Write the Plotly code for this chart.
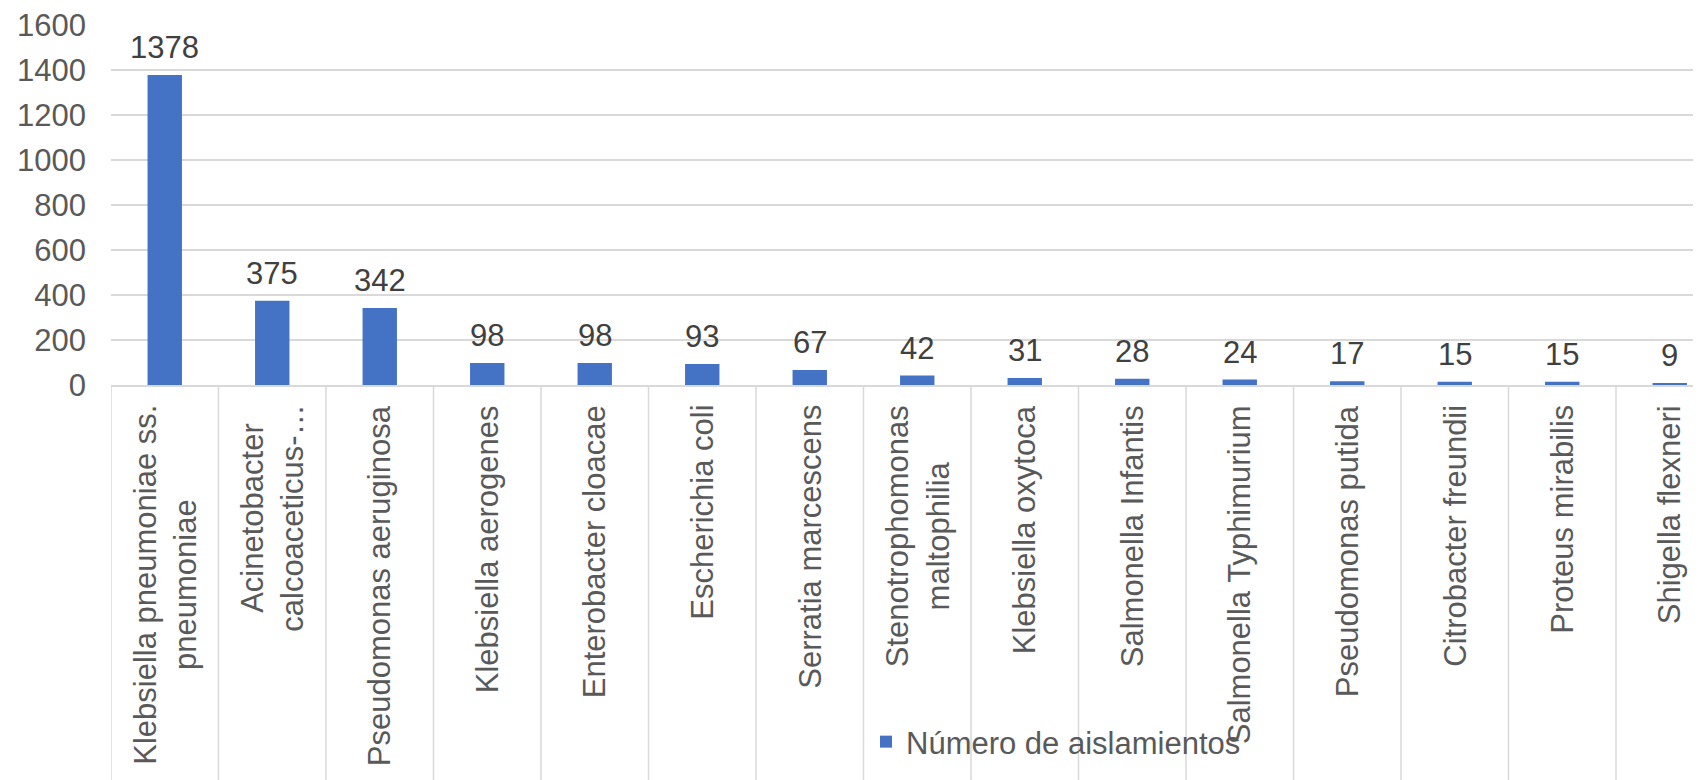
import plotly.graph_objects as go

categories = [
    "Klebsiella pneumoniae ss. pneumoniae",
    "Acinetobacter calcoaceticus-baumannii",
    "Pseudomonas aeruginosa",
    "Klebsiella aerogenes",
    "Enterobacter cloacae",
    "Escherichia coli",
    "Serratia marcescens",
    "Stenotrophomonas maltophilia",
    "Klebsiella oxytoca",
    "Salmonella Infantis",
    "Salmonella Typhimurium",
    "Pseudomonas putida",
    "Citrobacter freundii",
    "Proteus mirabilis",
    "Shigella flexneri",
]
tick_labels = [
    "Klebsiella pneumoniae ss.<br>pneumoniae",
    "Acinetobacter<br>calcoaceticus-…",
    "Pseudomonas aeruginosa",
    "Klebsiella aerogenes",
    "Enterobacter cloacae",
    "Escherichia coli",
    "Serratia marcescens",
    "Stenotrophomonas<br>maltophilia",
    "Klebsiella oxytoca",
    "Salmonella Infantis",
    "Salmonella Typhimurium",
    "Pseudomonas putida",
    "Citrobacter freundii",
    "Proteus mirabilis",
    "Shigella flexneri",
]
values = [1378, 375, 342, 98, 98, 93, 67, 42, 31, 28, 24, 17, 15, 15, 9]
y_ticks = [0, 200, 400, 600, 800, 1000, 1200, 1400, 1600]
series_name = "Número de aislamientos"

# the page body has an 8px default margin; size the figure so it ends at the window edge
OFF = 8
W, H = 1701 - OFF, 780 - OFF
ML, MR, MT = 111 - OFF, 0, 25 - OFF
plot_h = 360
MB = H - MT - plot_h
plot_w = W - ML - MR
cat_px = 107.5
FONT = "Liberation Sans, Arial, sans-serif"
FS = 31

fig = go.Figure()
fig.add_trace(go.Bar(
    x=categories, y=values, name=series_name,
    marker=dict(color="#4472C4", line=dict(width=0)),
    showlegend=True,
))

# data labels
for c, v in zip(categories, values):
    fig.add_annotation(x=c, y=v, xref="x", yref="y", text=str(v),
                       showarrow=False, yanchor="bottom", yshift=8,
                       font=dict(family=FONT, size=FS, color="#404040"))

# category labels
for c, lab in zip(categories, tick_labels):
    fig.add_annotation(x=c, y=-18 / plot_h, xref="x", yref="paper", text=lab,
                       showarrow=False, textangle=-90, align="center",
                       xanchor="center", yanchor="top",
                       font=dict(family=FONT, size=FS, color="#595959"))

# category divider lines below axis
for i in range(len(categories) + 1):
    fig.add_shape(type="line", xref="x", yref="paper",
                  x0=i - 0.5, x1=i - 0.5, y0=0, y1=-(MB + 5) / plot_h,
                  line=dict(color="#d9d9d9", width=1.5), layer="below")

fig.update_layout(
    width=W, height=H,
    margin=dict(l=ML, r=MR, t=MT, b=MB, autoexpand=False),
    paper_bgcolor="white", plot_bgcolor="white",
    bargap=0.68,
    font=dict(family=FONT, size=FS, color="#595959"),
    showlegend=True,
    legend=dict(orientation="h", x=(866 - 111) / plot_w, xanchor="left",
                y=-(742 - 25 - plot_h) / plot_h, yanchor="middle",
                font=dict(family=FONT, size=FS, color="#595959"),
                bgcolor="rgba(0,0,0,0)"),
)
fig.update_xaxes(
    type="category", range=[-0.5, -0.5 + plot_w / cat_px],
    showticklabels=False, ticks="", showgrid=False,
    showline=True, linecolor="#d9d9d9", linewidth=1.5,
    zeroline=False, automargin=False,
)
fig.update_yaxes(
    range=[0, 1600], tickvals=y_ticks,
    showgrid=True, gridcolor="#d9d9d9", gridwidth=1.5,
    zeroline=False, showline=False, ticks="",
    ticklabelstandoff=24, automargin=False, ticklabeloverflow="allow",
    tickfont=dict(family=FONT, size=FS, color="#595959"),
)

fig.write_html("out.html")
